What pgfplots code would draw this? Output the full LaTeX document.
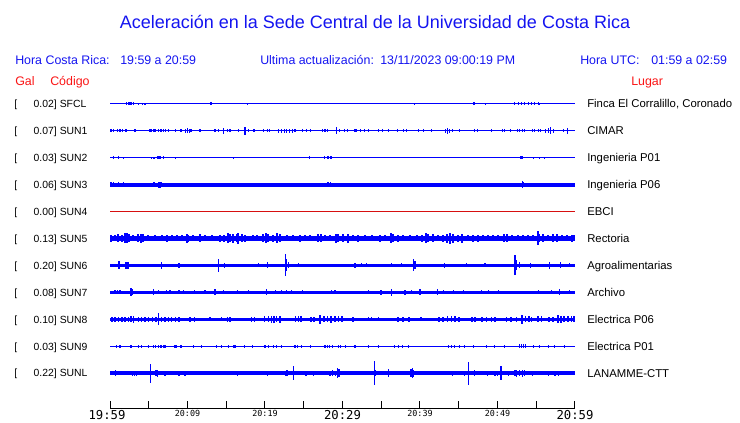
\documentclass[border=0pt]{standalone}
\usepackage{pgfplots}
\pgfplotsset{compat=1.18}
\usepackage{fontspec}
\setmainfont{Liberation Sans}
\newfontfamily\monofont{DejaVu Sans Mono}
\definecolor{trc}{RGB}{0,0,255}
\definecolor{hdr}{RGB}{20,20,240}
\definecolor{hred}{RGB}{250,20,20}
\definecolor{sred}{RGB}{215,15,15}
% spikes of a trace: vertical error bars of half height a (px)
\pgfplotsset{
  spk/.style={draw=none, mark=none, forget plot,
    error bars/.cd, y dir=both, y explicit, error mark=none,
    error bar style={line width=#1, draw=trc, solid}},
  spk/.default=0.8pt,
  base/.style={trc, line width=#1, forget plot},
}
\newcommand{\bigtick}[1]{{\fontsize{9.2}{10}\selectfont #1}}
\begin{document}
\begin{tikzpicture}[x=0.75pt,y=0.75pt]
\useasboundingbox (0,0) rectangle (740,423);
% header
\node[anchor=base, font=\fontsize{13.5}{16}\selectfont, text=hdr, inner sep=0] at (375,423-28.5) {Aceleración en la Sede Central de la Universidad de Costa Rica};
\begin{scope}[font=\fontsize{9.3}{11}\selectfont, text=hdr, inner sep=0]
\node[anchor=base west] at (15,423-65) {Hora Costa Rica:};
\node[anchor=base west] at (120,423-65) {19:59 a 20:59};
\node[anchor=base west] at (260,423-65) {Ultima actualización:};
\node[anchor=base west] at (380,423-65) {13/11/2023 09:00:19 PM};
\node[anchor=base west] at (580,423-65) {Hora UTC:};
\node[anchor=base west] at (651,423-65) {01:59 a 02:59};
\end{scope}
\begin{scope}[font=\fontsize{9.3}{11}\selectfont, text=hred, inner sep=0]
\node[anchor=base west] at (15,423-85.5) {Gal};
\node[anchor=base west] at (50,423-85.5) {Código};
\node[anchor=base west] at (631,423-85.5) {Lugar};
\end{scope}
% station labels
\foreach \k/\v/\c/\p in {0/0.02/SFCL/{Finca El Corralillo, Coronado},1/0.07/SUN1/CIMAR,2/0.03/SUN2/Ingenieria P01,3/0.06/SUN3/Ingenieria P06,4/0.00/SUN4/EBCI,5/0.13/SUN5/Rectoria,6/0.20/SUN6/Agroalimentarias,7/0.08/SUN7/Archivo,8/0.10/SUN8/Electrica P06,9/0.03/SUN9/Electrica P01,10/0.22/SUNL/LANAMME-CTT}{
  \pgfmathsetmacro{\yb}{423-103.7-26.96*\k-3.7}
  \node[anchor=base west, inner sep=0, font=\fontsize{7.8}{9}\selectfont] at (14,\yb) {[};
  \node[anchor=base east, inner sep=0, font=\fontsize{7.8}{9}\selectfont] at (57,\yb) {\v]};
  \node[anchor=base west, inner sep=0, font=\fontsize{7.8}{9}\selectfont] at (59.5,\yb) {\c};
  \node[anchor=base west, inner sep=0, font=\fontsize{8.5}{10}\selectfont] at (587,\yb-0.3) {\p};
}
\begin{axis}[at={(82.5pt,10.5pt)}, anchor=south west, scale only axis,
  width=348.75pt, height=240pt, xmin=0, xmax=60, ymin=0, ymax=320,
  axis x line=bottom, axis y line=none, clip=false,
  x axis line style={-, black, line width=0.75pt},
  xtick={0,5,...,60},
  xticklabels={\bigtick{\hspace*{-4.5pt}19:59},,20:09,,20:19,,\bigtick{20:29},,20:39,,20:49,,\bigtick{20:59}},
  xticklabel style={font=\monofont\fontsize{6.3}{7}\selectfont, inner sep=1pt},
  tick align=inside, major tick length=6pt, tick style={black, line width=0.75pt}]
% SFCL
\addplot[base=0.8pt] coordinates {(0,305.3)(60,305.3)};
\addplot[spk] table[x=t, y expr=305.3, y error=a, row sep=\\] {t a\\
2.15 1.5\\2.37 1.5\\2.58 1.5\\2.80 1.5\\3.01 1.5\\3.66 1\\4.17 1\\4.52 1\\13.03 1.5\\17.76 1\\39.26 1\\46.87 1.5\\47.09 1.5\\48.46 1\\
52.25 1.5\\52.67 1.5\\53.10 1.5\\53.50 1.5\\53.97 1.5\\54.40 1.5\\54.80 1.5\\55.26 1.5\\55.47 1\\};
% SUN1
\addplot[base=1pt] coordinates {(0,278.3)(60,278.3)};
\addplot[spk] table[x=t, y expr=278.3, y error=a, row sep=\\] {t a\\
0.13 1.5\\0.43 1.5\\0.99 1.5\\1.29 1.5\\1.59 1.5\\1.94 1.5\\2.15 1.5\\3.23 1.5\\5.16 1.5\\5.38 1.5\\5.59 1.5\\5.81 1.5\\6.24 1.5\\6.58 1.5\\
6.88 1.5\\7.22 1.5\\7.53 1.5\\8.51 1.5\\9.16 1.5\\9.76 2\\10.02 2.5\\10.23 2\\10.45 1.5\\11.61 1.5\\13.55 1.5\\13.98 1.5\\14.62 3\\15.18 1.5\\
15.48 1.5\\16.56 1.5\\17.42 4\\17.85 1.5\\18.58 1.5\\19.78 1.5\\20.30 1.5\\20.64 1.5\\21.80 2\\22.15 2\\22.49 2\\22.83 2\\23.18 2\\23.52 2\\
23.87 1.5\\24.81 1.5\\25.37 1.5\\25.93 1.5\\27.39 1.5\\27.74 1.5\\28.04 1.5\\29.24 3.5\\29.67 1.5\\30.23 1.5\\30.66 1.5\\31.61 1.5\\31.82 1.5\\
32.34 1.5\\32.81 1.5\\33.33 1.5\\34.62 1.5\\35.13 1.5\\35.91 1.5\\37.11 1.5\\37.84 1.5\\38.27 1.5\\39.86 1.5\\40.42 1.5\\41.50 1.5\\43.30 2\\
43.56 3\\43.86 2\\44.16 1.5\\45.15 1.5\\47.09 1.5\\47.43 1.5\\49.24 1.5\\50.61 1.5\\50.96 1.5\\51.73 1.5\\52.59 1.5\\52.89 1.5\\53.19 1.5\\
53.54 1.5\\54.48 1.5\\54.83 1.5\\55.26 1.5\\55.60 1.5\\56.20 2\\56.55 2.5\\56.89 3.5\\57.19 2\\58.48 1.5\\59.04 3\\};
% SUN2
\addplot[base=0.8pt] coordinates {(0,251.4)(60,251.4)};
\addplot[spk] table[x=t, y expr=251.4, y error=a, row sep=\\] {t a\\
0.43 1.3\\1.08 1.3\\1.72 1\\5.38 1\\5.68 1\\6.15 1.5\\6.32 1.5\\6.49 1.5\\6.88 1.3\\8.51 1\\15.91 1\\25.80 1.5\\27.65 1.3\\
28.08 1.5\\28.25 1.5\\28.42 1.5\\28.60 1.5\\52.93 1.5\\53.11 1.5\\53.28 1.5\\54.61 1\\55.47 1\\56.03 1\\};
% SUN3
\addplot[base=2.9pt] coordinates {(0,224.4)(60,224.4)};
\addplot[spk] table[x=t, y expr=224.4, y error=a, row sep=\\] {t a\\
0.05 2.2\\0.22 2.2\\0.43 2.5\\1.08 2.2\\1.72 2.5\\5.59 2.5\\5.72 2.5\\6.24 3\\6.45 3\\6.67 2.5\\28.08 2.5\\28.25 2.5\\28.42 2.5\\53.19 3.5\\53.36 2.5\\};
% SUN4
\addplot[sred, line width=0.8pt, forget plot] coordinates {(0,197.5)(60,197.5)};
% SUN5
\addplot[base=3.8pt] coordinates {(0,170.5)(60,170.5)};
\addplot[spk=1.5pt] table[x=t, y expr=170.5, y error=a, row sep=\\] {t a\\
0.13 3.5\\0.65 3\\1.08 4\\1.51 3.5\\1.94 5\\2.19 5\\2.45 4\\3.01 3\\3.66 4\\4.00 4.5\\4.30 4\\4.95 3\\5.81 3\\6.67 3\\7.31 3.5\\7.96 3\\
8.60 3\\9.25 3\\9.89 4.5\\10.11 3.5\\10.75 3\\11.61 4\\12.26 3\\13.12 3\\14.19 3.5\\14.75 3.5\\15.18 5\\15.48 4\\15.91 4.5\\16.34 4\\
16.56 5.5\\16.99 4\\17.42 3.5\\18.49 3\\18.92 3\\19.78 4\\20.12 5\\20.43 4\\21.07 3.5\\21.59 5\\21.93 4\\22.79 3\\23.65 3\\24.51 3.5\\
25.16 3\\25.80 3\\26.79 4\\27.22 4\\27.74 3\\28.38 3\\29.11 4.5\\29.46 4\\30.10 4\\30.75 4.5\\31.39 3\\32.04 3.5\\32.90 3\\33.76 3\\
34.83 3.5\\35.48 3\\36.25 5\\36.55 4\\37.20 3.5\\37.84 3\\38.70 3\\39.56 3\\40.21 3.5\\40.76 5\\41.07 4\\41.71 4\\42.36 3\\43.00 3.5\\
43.43 4.5\\43.86 5.5\\44.29 4.5\\44.94 3.5\\45.45 4.5\\46.23 3\\46.87 3.5\\47.43 3.5\\48.16 3\\48.81 3\\49.45 3\\50.10 3\\50.87 4\\
51.17 4\\51.82 3\\52.68 3\\53.32 3\\53.97 3\\54.61 3\\55.17 7\\55.38 4\\55.90 4\\56.55 3\\57.19 4\\57.62 4\\58.27 3\\58.91 3\\59.56 3.5\\59.90 3\\};
% SUN6
\addplot[base=2.7pt] coordinates {(0,143.5)(60,143.5)};
\addplot[spk=0.9pt] table[x=t, y expr=143.5, y error=a, row sep=\\] {t a\\
1.16 4\\2.02 3.5\\2.19 3.5\\2.37 3.5\\6.67 3.5\\8.90 2.5\\13.98 6.5\\14.75 2.5\\19.14 2\\20.34 3\\22.62 11\\22.79 6\\23.01 3\\24.30 2\\
31.61 2.5\\32.47 2\\33.11 2\\36.34 2\\37.63 2\\39.13 6\\39.35 4\\43.13 2.5\\46.01 2\\48.38 2\\52.25 10\\52.46 5\\52.89 3\\54.31 2.5\\
56.76 3.5\\58.18 3\\59.34 2\\};
% SUN7
\addplot[base=2pt] coordinates {(0,116.6)(60,116.6)};
\addplot[spk=0.9pt] table[x=t, y expr=116.6, y error=a, row sep=\\] {t a\\
0.65 2\\0.99 2\\1.29 2\\2.71 4\\2.88 3\\5.59 3\\6.24 2\\7.31 2\\7.74 2\\8.90 2\\9.46 2\\10.88 2\\12.26 2\\13.55 3\\14.62 2\\16.47 2\\
17.85 2\\20.21 3\\21.37 2\\22.15 2\\22.79 2\\23.44 2\\24.81 2\\28.60 2\\29.03 2\\33.33 2\\34.96 2.5\\36.34 3.5\\38.06 2.5\\38.92 2\\
39.99 3\\42.27 3\\43.00 2\\44.29 2\\45.58 2\\47.95 2\\48.81 2\\50.10 2\\55.26 2\\56.98 2\\58.05 3\\59.34 2\\};
% SUN8
\addplot[base=2.8pt] coordinates {(0,89.6)(60,89.6)};
\addplot[spk=1.2pt] table[x=t, y expr=89.6, y error=a, row sep=\\] {t a\\
0.22 2.5\\0.65 2.5\\1.08 2.5\\1.51 2.5\\1.94 2.5\\2.37 2.5\\2.71 3\\3.01 3.5\\3.66 2.5\\4.09 2.5\\4.52 2.5\\4.95 2.5\\5.46 2.5\\5.93 2.5\\
6.24 6\\6.67 2.5\\7.10 2.5\\7.53 2.5\\7.96 2.5\\8.47 2.5\\8.90 2.5\\10.32 2.5\\10.88 2.5\\12.90 2\\14.41 2\\15.18 2.5\\15.48 2.5\\
18.28 2.5\\18.62 2.5\\19.91 3\\20.43 3\\20.86 3.5\\21.20 3.5\\21.50 3\\21.93 3.5\\23.95 3\\24.30 3\\24.64 3\\25.93 2.5\\26.36 2.5\\
27.09 4.5\\27.65 3\\28.08 3\\28.51 3.5\\29.03 3\\29.46 3\\29.97 3\\31.39 2.5\\33.33 2\\33.76 2\\34.62 2\\37.20 2.5\\37.84 2.5\\38.57 2.5\\
40.12 2\\42.48 2.5\\43.00 2.5\\43.56 3\\44.08 3\\44.51 3\\45.02 2.5\\46.74 2.5\\47.09 2.5\\48.03 2.5\\48.59 2.5\\49.24 2.5\\49.67 2.5\\
51.17 2.5\\51.73 2.5\\52.46 2.5\\53.19 4.5\\53.62 3\\54.05 3\\54.40 2.5\\55.26 3\\55.69 3\\56.63 2.5\\57.19 2.5\\57.84 4\\58.18 3.5\\
58.61 3\\59.13 3\\59.56 3\\59.90 3\\};
% SUN9
\addplot[base=0.8pt] coordinates {(0,62.7)(60,62.7)};
\addplot[spk] table[x=t, y expr=62.7, y error=a, row sep=\\] {t a\\
0.86 1.5\\1.29 1.5\\2.71 1.5\\3.66 1.5\\4.09 1.5\\4.95 1.5\\5.59 1.5\\5.89 1.5\\6.24 1.5\\6.58 1.5\\6.88 1.5\\7.10 1.5\\8.39 1.5\\8.60 1.5\\
9.16 1.5\\10.75 1.5\\11.83 1.5\\13.76 1.5\\14.41 1.5\\15.27 1.5\\15.91 1.5\\16.13 1.5\\17.33 1.5\\18.40 1.5\\20.00 1.5\\20.43 1.5\\
21.07 1.5\\21.50 1.5\\22.15 1.5\\23.87 1.5\\24.21 1.5\\24.73 1.5\\25.93 1.5\\27.74 1.5\\28.08 1.5\\28.38 1.5\\28.68 1.5\\29.46 1.5\\
29.80 1.5\\30.40 1.5\\31.61 1.5\\33.33 1.5\\34.62 1.5\\36.77 1.5\\37.28 1.5\\37.71 1.5\\38.57 1.5\\43.65 1.5\\44.08 1.5\\44.51 1.5\\
45.15 1.5\\45.80 1.5\\46.87 1.5\\48.59 1.5\\49.67 1.5\\50.96 1.5\\52.89 2\\53.11 2\\53.32 2\\53.62 2\\54.61 1.5\\55.47 1.5\\56.55 1.5\\
57.41 1.5\\58.70 1.5\\};
% SUNL
\addplot[base=2.8pt] coordinates {(0,35.7)(60,35.7)};
\addplot[spk=0.9pt] table[x=t, y expr=35.7, y error=a, row sep=\\] {t a\\
0.73 3\\1.29 2\\2.88 2.5\\3.14 2.5\\3.44 2.5\\5.25 9.5\\5.93 3\\6.15 3.5\\7.10 2.5\\8.90 2.5\\9.68 2.5\\12.77 2\\13.98 2\\14.84 2\\
16.47 2.5\\16.77 2\\20.00 2\\20.34 2.5\\20.86 2\\22.66 2.5\\22.83 3\\23.65 7\\25.28 2.5\\26.23 2.5\\27.74 2\\28.38 2.5\\28.68 3\\
29.11 2.5\\29.37 5\\29.54 4\\34.10 12\\34.27 3\\35.91 4\\38.83 4\\39.00 5\\39.17 3.5\\44.20 2.5\\44.51 2\\45.71 2.5\\46.23 11.5\\47.00 3\\
47.73 2\\48.72 2.5\\49.02 2\\49.67 2.5\\49.97 2.5\\50.44 7\\51.39 2.5\\52.25 3\\52.50 3.5\\52.89 3\\53.19 3.5\\53.45 3\\54.48 2.5\\
56.55 2.5\\57.41 2.5\\57.84 2.5\\};
\end{axis}
\end{tikzpicture}
\end{document}
